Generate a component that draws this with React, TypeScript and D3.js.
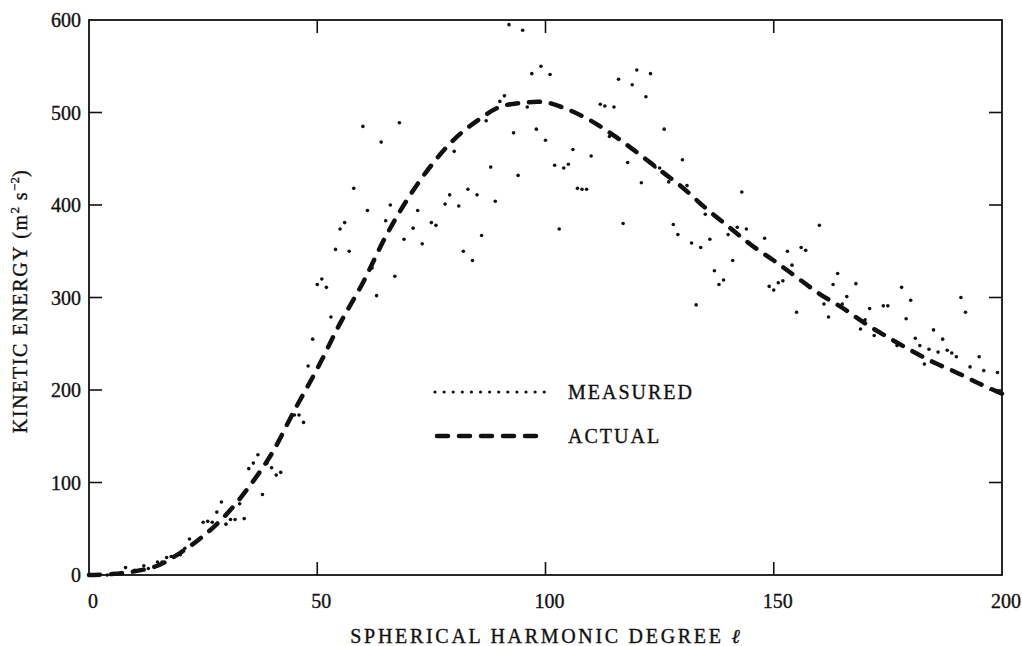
import React from "react";
import * as d3 from "d3";

const measuredDegree = [
  1, 2, 4, 7, 8, 10, 12, 13, 15, 16, 17, 18, 20, 21, 22, 25, 26, 27, 28, 29,
  30, 31, 32, 33, 34, 35, 36, 37, 38, 39, 40, 41, 42, 45, 46, 47, 48, 49, 50, 51,
  52, 53, 54, 55, 56, 57, 58, 60, 61, 62, 63, 64, 65, 66, 67, 68, 69, 71, 72, 73,
  75, 76, 78, 79, 80, 81, 82, 83, 84, 85, 86, 87, 88, 89, 90, 91, 92, 93, 94, 95,
  96, 97, 98, 99, 100, 101, 102, 103, 104, 105, 106, 107, 108, 109, 110, 112, 113, 114, 115, 116,
  117, 118, 119, 120, 121, 122, 123, 124, 125, 126, 127, 128, 129, 130, 131, 132, 133, 134, 135, 136,
  137, 138, 139, 140, 141, 142, 143, 144, 148, 149, 150, 151, 152, 153, 154, 155, 156, 157, 160, 161,
  162, 163, 164, 165, 166, 168, 169, 170, 171, 172, 174, 175, 177, 178, 179, 180, 181, 182, 183, 184,
  185, 186, 187, 188, 189, 190, 191, 192, 193, 195, 196, 199,
];
const measuredEnergy = [
  0, 0, 0, 2, 8, 5, 10, 7, 14, 14, 19, 20, 22, 29, 39, 57, 58, 57, 68, 79,
  55, 60, 60, 77, 61, 115, 121, 130, 87, 121, 116, 108, 111, 173, 173, 165, 226, 255, 314, 320,
  311, 279, 352, 374, 381, 350, 418, 485, 394, 332, 302, 468, 383, 400, 323, 489, 363, 375, 394, 358,
  381, 378, 401, 411, 458, 399, 350, 417, 340, 411, 367, 491, 441, 404, 512, 518, 595, 478, 432, 589,
  506, 542, 482, 550, 470, 541, 443, 374, 440, 444, 460, 418, 417, 417, 453, 509, 507, 474, 506, 536,
  380, 446, 530, 546, 424, 517, 542, 441, 440, 482, 425, 379, 368, 449, 421, 359, 292, 354, 390, 363,
  329, 314, 319, 368, 340, 376, 414, 374, 364, 312, 308, 316, 318, 350, 335, 284, 354, 351, 378, 293,
  279, 314, 326, 293, 301, 315, 266, 276, 288, 259, 291, 291, 248, 311, 277, 297, 256, 248, 228, 244,
  265, 241, 255, 243, 240, 236, 300, 284, 225, 236, 221, 219,
];

// actual spectrum (dashed curve)
const actualDegree = [
  0, 5, 10, 15, 20, 25, 30, 35, 40, 45, 50, 55, 60, 65, 70, 75, 80, 85, 90, 95,
  100, 105, 110, 115, 120, 125, 130, 135, 140, 145, 150, 155, 160, 165, 170, 175, 180, 185, 190, 195, 200,
];
const actualEnergy = [
  0, 1, 4, 10, 24, 42, 65, 95, 131, 178, 223, 272, 316, 366, 408, 443, 471, 491, 506, 510.5,
  511, 503, 491, 475, 457, 438, 419, 397, 377, 357, 340, 322, 304, 289, 272, 257, 243, 230, 219, 207, 196,
];

const xTicks = [0, 50, 100, 150, 200];
const yTicks = [0, 100, 200, 300, 400, 500, 600];

const W = 1022;
const H = 646;
const left = 89;
const right = 1002;
const top = 20;
const bottom = 575;
const serif = "'Liberation Serif', 'Times New Roman', serif";
const ink = "#111";

export default function App() {
  const x = d3.scaleLinear().domain([0, 200]).range([left, right]);
  const y = d3.scaleLinear().domain([0, 600]).range([bottom, top]);

  const measured = measuredDegree.map((d, i) => [d, measuredEnergy[i]] as [number, number]);
  const actual = actualDegree.map((d, i) => [d, actualEnergy[i]] as [number, number]);

  const line = d3
    .line<[number, number]>()
    .x((d) => x(d[0]))
    .y((d) => y(d[1]))
    .curve(d3.curveCatmullRom);

  const tickLen = 13;
  const legendX0 = 435;
  const legendX1 = 545;
  const legendDots = d3.range(legendX0, legendX1 + 1, 9.1);

  // heavier text, like the scanned print
  const textStyle = { fill: ink, stroke: ink, strokeWidth: 0.35 };

  return (
    <svg
      width={W}
      height={H}
      style={{ position: "absolute", left: 0, top: 0, background: "#fff" }}
      fontFamily={serif}
    >
      <rect x={0} y={0} width={W} height={H} fill="#fff" />

      {/* measured dots */}
      {measured.map((d, i) => (
        <circle key={i} cx={x(d[0])} cy={y(d[1])} r={1.8} fill={ink} />
      ))}

      {/* actual curve */}
      <path
        d={line(actual) || ""}
        fill="none"
        stroke={ink}
        strokeWidth={4.5}
        strokeDasharray="11 11"
        strokeLinecap="round"
      />

      {/* frame */}
      <rect
        x={left}
        y={top}
        width={right - left}
        height={bottom - top}
        fill="none"
        stroke={ink}
        strokeWidth={1.8}
      />

      {/* ticks, inward on all four sides */}
      {xTicks.slice(1, -1).map((t) => (
        <g key={"xt" + t}>
          <line x1={x(t)} x2={x(t)} y1={bottom} y2={bottom - tickLen} stroke={ink} strokeWidth={1.6} />
          <line x1={x(t)} x2={x(t)} y1={top} y2={top + tickLen} stroke={ink} strokeWidth={1.6} />
        </g>
      ))}
      {yTicks.slice(1, -1).map((t) => (
        <g key={"yt" + t}>
          <line x1={left} x2={left + tickLen} y1={y(t)} y2={y(t)} stroke={ink} strokeWidth={1.6} />
          <line x1={right} x2={right - tickLen} y1={y(t)} y2={y(t)} stroke={ink} strokeWidth={1.6} />
        </g>
      ))}

      {/* tick labels */}
      {xTicks.map((t) => (
        <text key={"xl" + t} x={x(t) + 4} y={608} textAnchor="middle" fontSize={20} {...textStyle}>
          {t}
        </text>
      ))}
      {yTicks.map((t) => (
        <text key={"yl" + t} x={81} y={y(t)} dy="0.35em" textAnchor="end" fontSize={20} {...textStyle}>
          {t}
        </text>
      ))}

      {/* axis titles */}
      <text x={545} y={643} textAnchor="middle" fontSize={20} letterSpacing={2.7} {...textStyle}>
        SPHERICAL HARMONIC DEGREE <tspan fontStyle="italic" letterSpacing={0}>ℓ</tspan>
      </text>
      <text
        transform="translate(27,301) rotate(-90)"
        textAnchor="middle"
        fontSize={20}
        letterSpacing={1.6}
        {...textStyle}
      >
        KINETIC ENERGY (m
        <tspan fontSize={13} dy={-8} letterSpacing={0}>2</tspan>
        <tspan dy={8}> s</tspan>
        <tspan fontSize={13} dy={-8} letterSpacing={0}>−2</tspan>
        <tspan dy={8}>)</tspan>
      </text>

      {/* legend */}
      {legendDots.map((lx, i) => (
        <circle key={"ld" + i} cx={lx} cy={392} r={1.6} fill={ink} />
      ))}
      <text x={568} y={399} fontSize={20} letterSpacing={2} {...textStyle}>
        MEASURED
      </text>
      <line
        x1={legendX0 + 2}
        x2={legendX1}
        y1={436}
        y2={436}
        stroke={ink}
        strokeWidth={4.5}
        strokeDasharray="11 11"
        strokeLinecap="round"
      />
      <text x={568} y={443} fontSize={20} letterSpacing={2} {...textStyle}>
        ACTUAL
      </text>
    </svg>
  );
}
